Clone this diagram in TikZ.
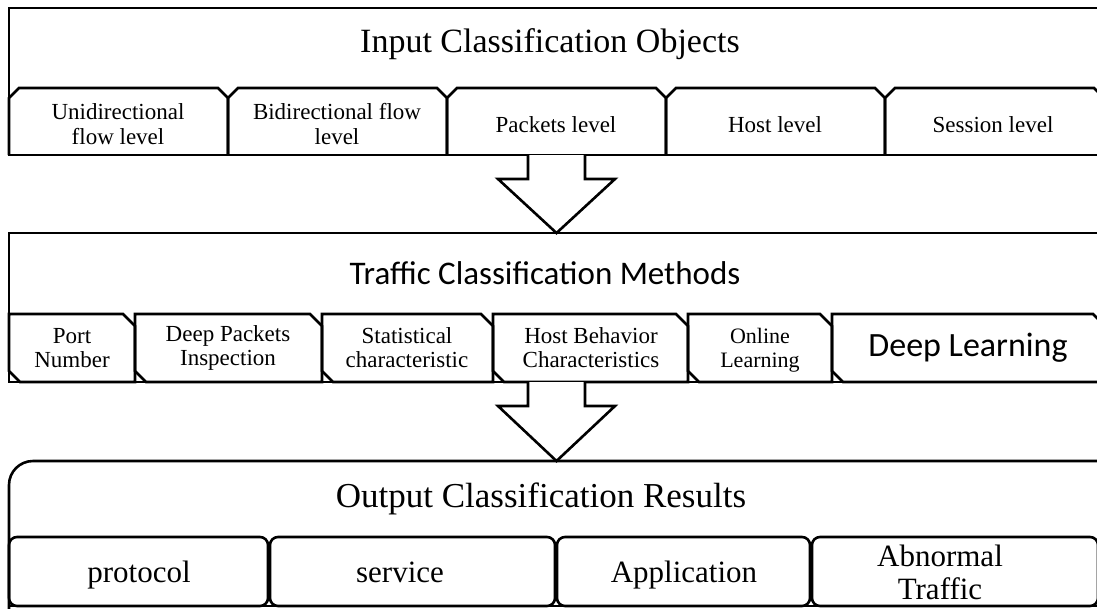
\documentclass[tikz,border=0pt]{standalone}
\usepackage{fontspec}
\setmainfont{Liberation Serif}
\newfontfamily\calibrifont{Carlito}
\usetikzlibrary{positioning}

\begin{document}
\begin{tikzpicture}[x=1pt, y=-1pt]
    \tikzstyle{boxline} = [line width=2.6pt, line join=miter]
    \tikzstyle{bigarrow} = [line width=2.6pt, line join=miter, fill=white]
    \tikzstyle{headtext} = [font=\fontsize{34}{36}\selectfont]
    \tikzstyle{tabtext} = [align=center, font=\fontsize{23}{25}\selectfont]
    \tikzstyle{methodtext} = [align=center, font=\fontsize{23}{24}\selectfont]
    \tikzstyle{resulttext} = [align=center, font=\fontsize{31}{33}\selectfont]

    \useasboundingbox (0,0) rectangle (1097,608);
    \clip (0,0) rectangle (1097,608);

    % input objects
    \draw[boxline] (9,8) rectangle (1110,155);
    \draw[boxline] (9,155) -- (9,98) -- (19,88) -- (218,88) -- (228,98) -- (228,155);
    \draw[boxline] (228,155) -- (228,98) -- (238,88) -- (437,88) -- (447,98) -- (447,155);
    \draw[boxline] (447,155) -- (447,98) -- (457,88) -- (656,88) -- (666,98) -- (666,155);
    \draw[boxline] (666,155) -- (666,98) -- (676,88) -- (875,88) -- (885,98) -- (885,155);
    \draw[boxline] (885,155) -- (885,98) -- (895,88) -- (1094,88) -- (1104,98) -- (1104,155);

    \node[headtext] (inputtitle) at (550,44) {Input Classification Objects};
    \node[tabtext] (uniflow) at (118,124) {Unidirectional\\flow level};
    \node[tabtext] (biflow) at (337,124) {Bidirectional flow\\level};
    \node[tabtext, anchor=base] (packets) at (556,132) {Packets level};
    \node[tabtext, anchor=base] (hostlevel) at (775,132) {Host level};
    \node[tabtext, anchor=base] (session) at (993,132) {Session level};

    % classification methods
    \draw[boxline] (9,233) rectangle (1110,382);
    \draw[boxline] (9,371) -- (9,314) -- (123,314) -- (135,326) -- (135,382) -- (20,382) -- cycle;
    \draw[boxline] (135,371) -- (135,314) -- (310,314) -- (322,326) -- (322,382) -- (146,382) -- cycle;
    \draw[boxline] (322,371) -- (322,314) -- (481,314) -- (493,326) -- (493,382) -- (333,382) -- cycle;
    \draw[boxline] (493,371) -- (493,314) -- (676,314) -- (688,326) -- (688,382) -- (504,382) -- cycle;
    \draw[boxline] (688,371) -- (688,314) -- (820,314) -- (832,326) -- (832,382) -- (699,382) -- cycle;
    \draw[boxline] (832,371) -- (832,314) -- (1093,314) -- (1105,326) -- (1105,382) -- (843,382) -- cycle;

    \node[headtext, font=\calibrifont\fontsize{33}{35}\selectfont] (methodtitle) at (545,273) {Traffic Classification Methods};
    \node[methodtext] (port) at (72,348) {Port\\Number};
    \node[methodtext] (dpi) at (228,348) {Deep Packets\\Inspection};
    \node[methodtext] (statistic) at (407,348) {Statistical\\characteristic};
    \node[methodtext] (hostbehavior) at (591,348) {Host Behavior\\Characteristics};
    \node[methodtext, font=\fontsize{22}{24}\selectfont] (online) at (760,350) {Online\\Learning};
    \node[font=\calibrifont\fontsize{34}{36}\selectfont] (deeplearn) at (968,348) {Deep Learning};

    % classification results
    \draw[boxline, rounded corners=24pt] (9,620) -- (9,461) -- (1120,461);
    \draw[boxline] (9,606) -- (1120,606);
    \draw[boxline, rounded corners=8pt] (9,537) rectangle (268,606);
    \draw[boxline, rounded corners=8pt] (270,537) rectangle (555,606);
    \draw[boxline, rounded corners=8pt] (557,537) rectangle (810,606);
    \draw[boxline, rounded corners=8pt] (812,537) rectangle (1098,606);

    \node[headtext, font=\fontsize{35}{37}\selectfont] (outputtitle) at (541,499) {Output Classification Results};
    \node[resulttext, anchor=base] (protocol) at (139,582) {protocol};
    \node[resulttext, anchor=base] (service) at (400,582) {service};
    \node[resulttext, anchor=base] (application) at (684,582) {Application};
    \node[resulttext] (abnormal) at (940,572) {Abnormal\\Traffic};

    % hollow arrows between the levels
    \coordinate (tailA) at (556.5,155);
    \coordinate (tipA) at (556.5,233);
    \coordinate (tailB) at (556.5,382);
    \coordinate (tipB) at (556.5,461);
    \draw[bigarrow] (tailA) ++(-28.5,0) -- ++(0,24) -- ++(-30,0) -- (tipA) -- ++(58.5,-54) -- ++(-30,0) -- ++(0,-24);
    \draw[bigarrow] (tailB) ++(-28.5,0) -- ++(0,24) -- ++(-30,0) -- (tipB) -- ++(58.5,-55) -- ++(-30,0) -- ++(0,-24);
\end{tikzpicture}
\end{document}
